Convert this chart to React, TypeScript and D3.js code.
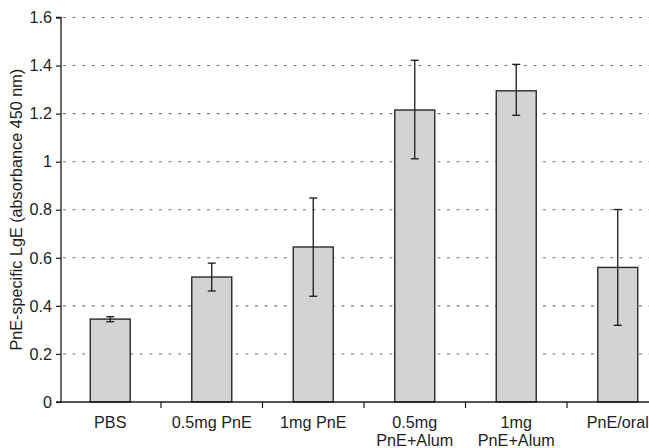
import React, { useRef, useEffect } from "react";
import * as d3 from "d3";

const categories = ["PBS", "0.5mg PnE", "1mg PnE", "0.5mg\nPnE+Alum", "1mg\nPnE+Alum", "PnE/oral"];
const means = [0.345, 0.52, 0.645, 1.215, 1.295, 0.56];
const errLow = [0.334, 0.462, 0.44, 1.012, 1.193, 0.319];
const errHigh = [0.355, 0.578, 0.849, 1.422, 1.405, 0.801];
const yTicks = [0, 0.2, 0.4, 0.6, 0.8, 1, 1.2, 1.4, 1.6];

function App() {
  const svgRef = useRef<SVGSVGElement>(null);

  useEffect(() => {
    const w = 649;
    const h = 448;
    const font = "'Liberation Sans', Arial, sans-serif";
    const fs = 16.2;
    const svg = d3.select(svgRef.current).attr("width", w).attr("height", h);
    svg.selectAll("*").remove();

    const axisX = 61;
    const y = d3.scaleLinear().domain([0, 1.6]).range([402, 17.5]);
    const x = d3.scaleBand<number>()
      .domain(d3.range(categories.length))
      .range([59.5, 668.5])
      .paddingInner(0.606)
      .paddingOuter(0.303);

    // gridlines
    svg.append("g")
      .selectAll("line")
      .data(yTicks.slice(1))
      .enter()
      .append("line")
      .attr("x1", axisX + 2)
      .attr("x2", w)
      .attr("y1", (d) => y(d))
      .attr("y2", (d) => y(d))
      .attr("stroke", "#777")
      .attr("stroke-width", 1.1)
      .attr("stroke-dasharray", "3,6.6");

    // bars
    svg.append("g")
      .selectAll("rect")
      .data(means)
      .enter()
      .append("rect")
      .attr("x", (d, i) => x(i)!)
      .attr("y", (d) => y(d))
      .attr("width", x.bandwidth())
      .attr("height", (d) => y(0) - y(d))
      .attr("fill", "#d2d3d5")
      .attr("stroke", "#2a2a2a")
      .attr("stroke-width", 1.4);

    // error bars
    const eg = svg.append("g").attr("stroke", "#1a1a1a").attr("stroke-width", 1.3);
    means.forEach((m, i) => {
      const cx = x(i)! + x.bandwidth() / 2;
      eg.append("line").attr("x1", cx).attr("x2", cx).attr("y1", y(errLow[i])).attr("y2", y(errHigh[i]));
      [errLow[i], errHigh[i]].forEach((v) => {
        eg.append("line").attr("x1", cx - 4).attr("x2", cx + 4).attr("y1", y(v)).attr("y2", y(v));
      });
    });

    // y axis
    const yAxis = d3.axisLeft(y)
      .tickValues(yTicks)
      .tickSize(5)
      .tickPadding(4)
      .tickFormat((d) => String(d));
    const yg = svg.append("g").attr("transform", `translate(${axisX},0)`).call(yAxis);
    yg.select(".domain").attr("stroke", "#1a1a1a").attr("stroke-width", 1.3).attr("d", `M-5,${y(1.6)}H0V${y(0)}`);
    yg.selectAll(".tick line").attr("stroke", "#1a1a1a").attr("stroke-width", 1.2);
    yg.selectAll(".tick text")
      .attr("font-family", font)
      .attr("font-size", fs)
      .attr("fill", "#1e1e1e");

    // x axis
    svg.append("line")
      .attr("x1", axisX - 5)
      .attr("x2", w)
      .attr("y1", y(0))
      .attr("y2", y(0))
      .attr("stroke", "#1a1a1a")
      .attr("stroke-width", 1.3);
    svg.append("g")
      .selectAll("line")
      .data(d3.range(1, categories.length))
      .enter()
      .append("line")
      .attr("x1", (i) => x(i)! - (x.step() - x.bandwidth()) / 2)
      .attr("x2", (i) => x(i)! - (x.step() - x.bandwidth()) / 2)
      .attr("y1", y(0))
      .attr("y2", y(0) + 6)
      .attr("stroke", "#1a1a1a")
      .attr("stroke-width", 1.2);

    const xl = svg.append("g")
      .attr("font-family", font)
      .attr("font-size", fs)
      .attr("fill", "#1e1e1e")
      .attr("text-anchor", "middle");
    categories.forEach((c, i) => {
      const t = xl.append("text").attr("x", x(i)! + x.bandwidth() / 2).attr("y", 428);
      c.split("\n").forEach((line, j) => {
        t.append("tspan").attr("x", x(i)! + x.bandwidth() / 2).attr("dy", j === 0 ? 0 : 18).text(line);
      });
    });

    // y label
    svg.append("text")
      .attr("transform", `translate(22,${(y(0) + y(1.6)) / 2}) rotate(-90)`)
      .attr("text-anchor", "middle")
      .attr("font-family", font)
      .attr("font-size", fs)
      .attr("fill", "#1e1e1e")
      .text("PnE-specific LgE (absorbance 450 nm)");
  }, []);

  return (
    <svg ref={svgRef} style={{ position: "absolute", left: 0, top: 0, background: "#fff" }}></svg>
  );
}

export default App;
